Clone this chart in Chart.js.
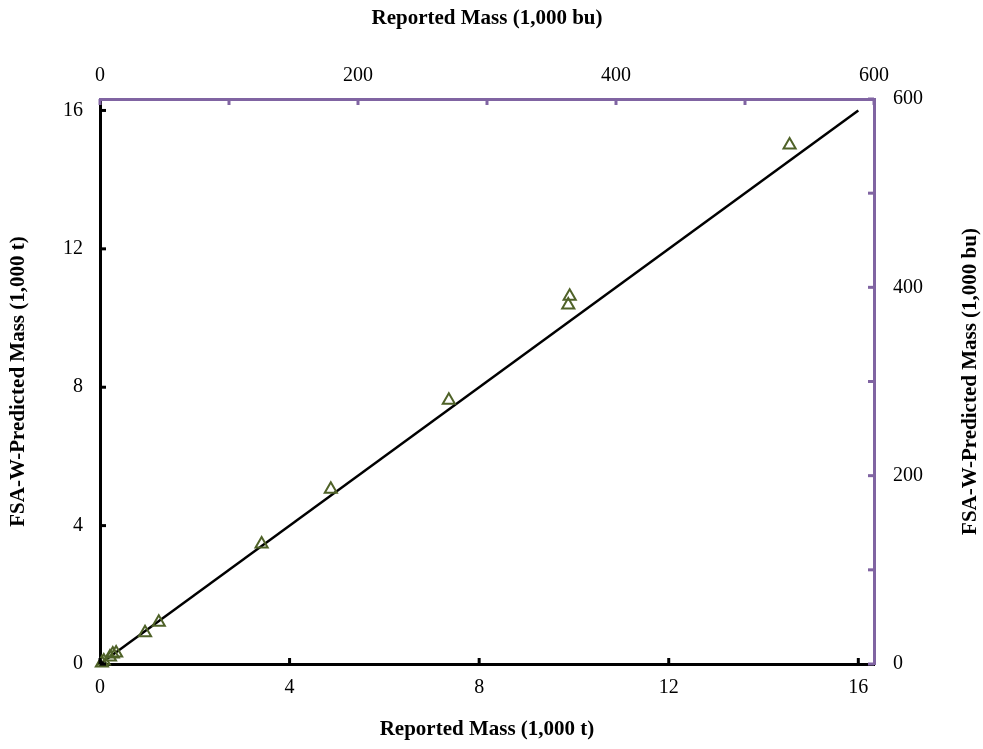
<!DOCTYPE html>
<html>
<head>
<meta charset="utf-8">
<script src="https://cdn.jsdelivr.net/npm/chart.js@4.4.1/dist/chart.umd.min.js"></script>
<style>
  html, body { margin: 0; padding: 0; background: #ffffff; }
  #wrap { width: 983px; height: 749px; }
</style>
</head>
<body>
<div id="wrap"><canvas id="c" width="983" height="749"></canvas></div>
<script>
// ---- Data ----
const reportedT  = [14.55, 9.91, 9.88, 7.36, 4.87, 3.41, 1.24, 0.95, 0.34, 0.27, 0.21, 0.08, 0.04];
const predictedT = [15.00, 10.63, 10.38, 7.62, 5.05, 3.47, 1.21, 0.90, 0.32, 0.29, 0.20, 0.09, 0.03];
const lineX = [0, 16];
const lineY = [0, 16];
const tickLabelsT = [0, 4, 8, 12, 16];
const tickLabelsBu = [0, 200, 400, 600];
const tickMarksBu = [0, 100, 200, 300, 400, 500, 600];
const BU_PER_T = 36.74;
const MAX_BU = 600;

const PURPLE = '#8064a2';
const OLIVE = '#4f6228';
const SERIF = '"Liberation Serif", "Times New Roman", serif';

const points = reportedT.map((x, i) => ({ x: x, y: predictedT[i] }));
const linePts = lineX.map((x, i) => ({ x: x, y: lineY[i] }));

function setTicks(values) {
  return function (scale) { scale.ticks = values.map(v => ({ value: v })); };
}

const innerTicks = {
  id: 'innerTicks',
  afterDraw(chart) {
    const ctx = chart.ctx;
    const a = chart.chartArea;
    const L = 6;
    ctx.save();
    ctx.lineWidth = 3;
    // bottom / left: black
    ctx.strokeStyle = '#000';
    tickLabelsT.forEach(v => {
      const px = chart.scales.x.getPixelForValue(v);
      ctx.beginPath(); ctx.moveTo(px, a.bottom); ctx.lineTo(px, a.bottom - L); ctx.stroke();
      const py = chart.scales.y.getPixelForValue(v);
      ctx.beginPath(); ctx.moveTo(a.left, py); ctx.lineTo(a.left + L, py); ctx.stroke();
    });
    // top / right: purple
    ctx.strokeStyle = PURPLE;
    tickMarksBu.forEach(v => {
      const px = chart.scales.x2.getPixelForValue(v);
      ctx.beginPath(); ctx.moveTo(px, a.top); ctx.lineTo(px, a.top + L); ctx.stroke();
      const py = chart.scales.y2.getPixelForValue(v);
      ctx.beginPath(); ctx.moveTo(a.right, py); ctx.lineTo(a.right - L, py); ctx.stroke();
    });
    // right axis title (reads bottom-to-top like the left one)
    ctx.fillStyle = '#000';
    ctx.font = 'bold 21px ' + SERIF;
    ctx.textAlign = 'center';
    ctx.textBaseline = 'middle';
    ctx.translate(971, (a.top + a.bottom) / 2);
    ctx.rotate(-Math.PI / 2);
    ctx.fillText('FSA-W-Predicted Mass (1,000 bu)', 0, 0);
    ctx.restore();
  }
};

const tickFont = { family: SERIF, size: 20 };
const titleFont = { family: SERIF, size: 21, weight: 'bold' };
const noGrid = { display: false, drawTicks: false };

new Chart(document.getElementById('c'), {
  data: {
    datasets: [
      {
        type: 'line',
        data: linePts,
        borderColor: '#000',
        borderWidth: 2.5,
        pointRadius: 0,
        fill: false,
        xAxisID: 'x', yAxisID: 'y',
        order: 2
      },
      {
        type: 'scatter',
        data: points,
        pointStyle: 'triangle',
        pointRadius: 7,
        pointHoverRadius: 7,
        borderColor: OLIVE,
        backgroundColor: 'rgba(0,0,0,0)',
        borderWidth: 2,
        clip: false,
        xAxisID: 'x', yAxisID: 'y',
        order: 1
      }
    ]
  },
  options: {
    responsive: false,
    animation: false,
    layout: { padding: 0 },
    plugins: { legend: { display: false }, tooltip: { enabled: false } },
    scales: {
      x: {
        type: 'linear', position: 'bottom',
        min: 0, max: MAX_BU / BU_PER_T,
        afterBuildTicks: setTicks(tickLabelsT),
        afterFit(s) { s.height = 85; },
        grid: noGrid,
        border: { display: true, color: '#000', width: 3 },
        ticks: { font: tickFont, color: '#000', padding: 12, maxRotation: 0 },
        title: { display: true, text: 'Reported Mass (1,000 t)', font: titleFont, color: '#000', padding: { top: 0, bottom: 7 } }
      },
      y: {
        type: 'linear', position: 'left',
        min: 0, max: MAX_BU / BU_PER_T,
        afterBuildTicks: setTicks(tickLabelsT),
        afterFit(s) { s.width = 100; },
        grid: noGrid,
        border: { display: true, color: '#000', width: 3 },
        ticks: { font: tickFont, color: '#000', padding: 17 },
        title: { display: true, text: 'FSA-W-Predicted Mass (1,000 t)', font: titleFont, color: '#000', padding: { top: 6, bottom: 0 } }
      },
      x2: {
        type: 'linear', position: 'top',
        min: 0, max: MAX_BU,
        afterBuildTicks: setTicks(tickLabelsBu),
        afterFit(s) { s.height = 99; },
        grid: noGrid,
        border: { display: true, color: PURPLE, width: 3 },
        ticks: { font: tickFont, color: '#000', padding: 11, maxRotation: 0 },
        title: { display: true, text: 'Reported Mass (1,000 bu)', font: titleFont, color: '#000', padding: { top: 6, bottom: 0 } }
      },
      y2: {
        type: 'linear', position: 'right',
        min: 0, max: MAX_BU,
        afterBuildTicks: setTicks(tickLabelsBu),
        afterFit(s) { s.width = 109; },
        grid: noGrid,
        border: { display: true, color: PURPLE, width: 3 },
        ticks: { font: tickFont, color: '#000', padding: 19 },
        title: { display: false }
      }
    }
  },
  plugins: [innerTicks]
});
</script>
</body>
</html>
